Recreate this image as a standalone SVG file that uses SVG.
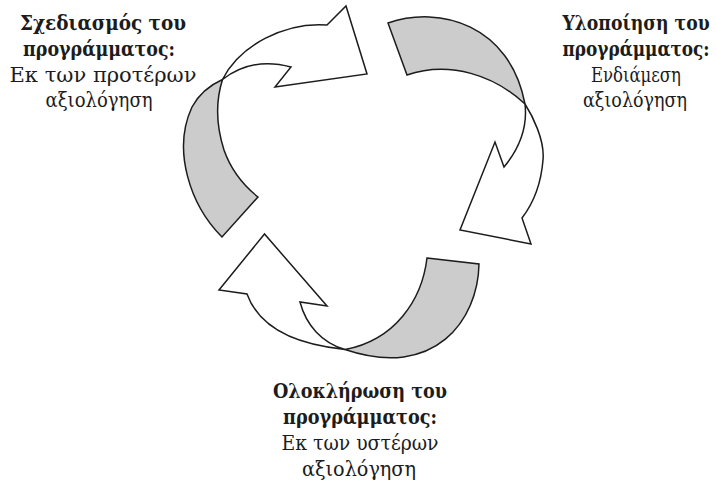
<svg xmlns="http://www.w3.org/2000/svg" width="716" height="486" viewBox="0 0 716 486">
<style>
.bg{fill:#ffffff}
.w{fill:#ffffff;stroke:#1c1c1c;stroke-width:1.5;stroke-linejoin:miter}
.g{fill:#cccccc;stroke:#1c1c1c;stroke-width:1.5;stroke-linejoin:miter}
text{font-family:"DejaVu Serif","Liberation Serif",serif;font-size:21px;fill:#1c1c1c;text-anchor:middle}
.b{font-weight:bold}
</style>
<rect class="bg" x="0" y="0" width="716" height="486"/>
<g id="connectors">
  <g id="arrow-top-left">
    <path class="g" d="M222,237 C190,205 172,150 192,107 C199,94 208,86 222.5,79.5 C216,100 216,125 224,150 C231,170 243,185 258,197 Z"/>
    <path class="w" d="M222.5,79.5 C240,45 285,22 327,25 L346,6 L367,74 L275,87 L291,67 C262,59 240,66 222.5,79.5 Z"/>
  </g>
  <g id="arrow-right">
    <path class="g" d="M388,23 C440,5 510,25 525,104 C495,76 450,60 407,75 Z"/>
    <path class="w" d="M525,104 C532,115 545,140 543,160 C541,185 532,205 522,218 L531,244 L460,230 L495,142 L504,167 C518,150 528,130 525,104 Z"/>
  </g>
  <g id="arrow-bottom">
    <path class="g" d="M427,258 L479,264 C478,320 435,380 345,349.5 C395,340 422,300 427,258 Z"/>
    <path class="w" d="M345,349.5 C300,345 260,330 247,294 L219,290 L264.5,234 L327,306 L300,302 C306,325 322,343 345,349.5 Z"/>
  </g>
</g>
<g id="node-planning">
  <text class="b" x="103" y="30" textLength="166" lengthAdjust="spacingAndGlyphs">Σχεδιασμός του</text>
  <text class="b" x="99" y="56" textLength="152" lengthAdjust="spacingAndGlyphs">προγράμματος:</text>
  <text x="103" y="82" textLength="187" lengthAdjust="spacingAndGlyphs">Εκ των προτέρων</text>
  <text x="99" y="107" textLength="107" lengthAdjust="spacingAndGlyphs">αξιολόγηση</text>
</g>
<g id="node-implementation">
  <text class="b" transform="translate(636,30) scale(0.8,1)" x="0" y="0" textLength="184" lengthAdjust="spacingAndGlyphs">Υλοποίηση του</text>
  <text class="b" transform="translate(636,56) scale(0.8,1)" x="0" y="0" textLength="184" lengthAdjust="spacingAndGlyphs">προγράμματος:</text>
  <text x="636" y="82" textLength="90" lengthAdjust="spacingAndGlyphs">Ενδιάμεση</text>
  <text x="635" y="107" textLength="104" lengthAdjust="spacingAndGlyphs">αξιολόγηση</text>
</g>
<g id="node-completion">
  <text class="b" x="360" y="398" textLength="174" lengthAdjust="spacingAndGlyphs">Ολοκλήρωση του</text>
  <text class="b" x="360" y="424" textLength="154" lengthAdjust="spacingAndGlyphs">προγράμματος:</text>
  <text x="360" y="450" textLength="157" lengthAdjust="spacingAndGlyphs">Εκ των υστέρων</text>
  <text x="359" y="476" textLength="114" lengthAdjust="spacingAndGlyphs">αξιολόγηση</text>
</g>
</svg>
